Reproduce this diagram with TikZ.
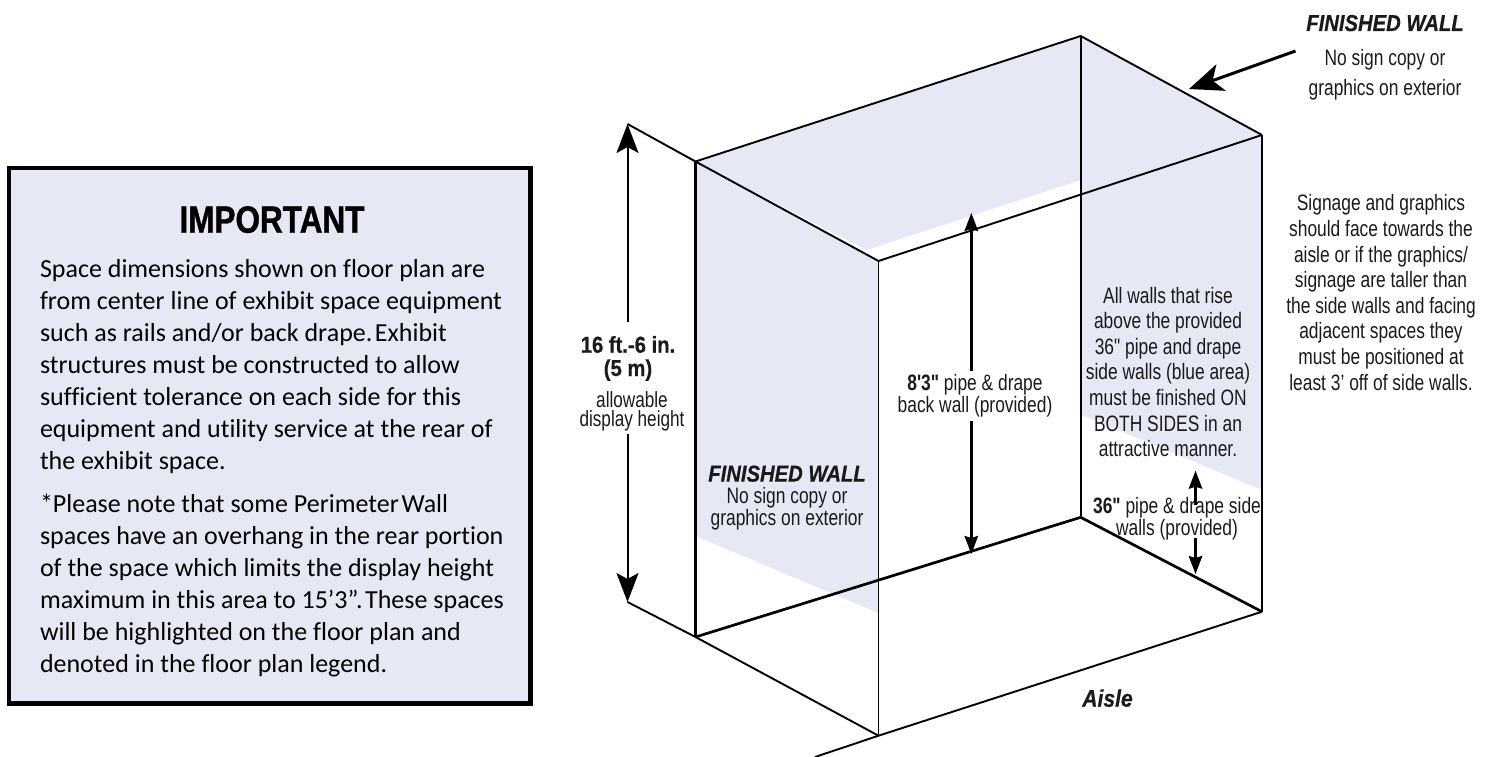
\documentclass[tikz,border=0pt]{standalone}
\usepackage{fontspec}
\usepackage{tikz}
\usetikzlibrary{arrows.meta}
\setmainfont{Liberation Sans}
\newfontfamily\nar[FakeStretch=0.78]{Liberation Sans}
\newfontfamily\narb[FakeStretch=0.88,FakeBold=0.5]{Liberation Sans}
\newfontfamily\narh[FakeStretch=0.83,FakeBold=1]{Liberation Sans}
\newfontfamily\gill[Ligatures=NoCommon]{Carlito}
\definecolor{wallblue}{HTML}{E6E8F5}
\definecolor{inkc}{HTML}{1A1A1A}
\newcommand\tsp{{\spaceskip=0.1em\relax\ }}
\newcommand\hv{\narb\bfseries\fontsize{23}{23.3}\selectfont}
\newcommand\fw{{\narb\bfseries\itshape\fontsize{23}{23}\selectfont FINISHED WALL}}
\tikzset{
  edge/.style={draw=black,line width=2.4pt},
  thinedge/.style={draw=black,line width=1.9pt},
  lab/.style={inner sep=0pt,outer sep=0pt,align=center,text=inkc,anchor=base},
  bodytxt/.style={inner sep=0pt,outer sep=0pt,align=left,text=black,anchor=north west,font=\gill\fontsize{26}{32}\selectfont},
  bigdim/.style={line width=2pt,-{Stealth[length=29pt,width=22pt,inset=6pt]}},
  middim/.style={line width=2.4pt,-{Stealth[length=18pt,width=13.5pt,inset=2pt]}},
  ptr/.style={line width=3pt,-{Stealth[length=34pt,width=28pt,inset=9pt]}},
}
\begin{document}
\begin{tikzpicture}[x=1pt,y=-1pt]
\useasboundingbox (0,0) rectangle (1491,757);
% corners
\coordinate (TL) at (695.5,161.5);
\coordinate (TF) at (878.5,261);
\coordinate (TB) at (1080.7,36);
\coordinate (TR) at (1262,135);
\coordinate (BL) at (695.5,637);
\coordinate (BF) at (878.5,735.7);
\coordinate (BB) at (1080.7,517.3);
\coordinate (BR) at (1262,611.7);
\coordinate (XT) at (627.5,124);
\coordinate (XB) at (627.5,602);
\coordinate (FE) at (815,757);
% fills
\fill[wallblue] (TL) -- (TB) -- (TR) -- (1262,490) -- (1080.7,414.5) -- (1080.7,180) -- (866.5,250) -- cycle;
\fill[wallblue] (TL) -- (TF) -- (878.5,613) -- (695.5,536) -- cycle;
% edges
\draw[thinedge] (XT) -- (TL) -- (TF);
\draw[thinedge] (TL) -- (TB) -- (TR);
\draw[thinedge] (TF) -- (TR);
\draw[edge] (TL) -- (BL);
\draw[draw=black,line width=1.6pt] (TF) -- (BF);
\draw[edge] (TB) -- (BB);
\draw[edge] (TR) -- (BR);
\draw[line width=2.7pt] (BL) -- (BB) -- (BR);
\draw[thinedge] (XB) -- (BL) -- (BF);
\draw[thinedge] (FE) -- (BF) -- (BR);
% important box
\node[draw=black,line width=4.4pt,fill=wallblue,minimum width=521.6pt,minimum height=535.3pt,inner sep=0pt,anchor=north west,outer sep=0pt] (box) at (8.9,168.2) {};
\node[lab,text=black,font=\narh\bfseries\fontsize{38}{38}\selectfont] (imp) at (272,232.7) {IMPORTANT};
\node[bodytxt] (body1) at (40,259) {Space dimensions shown on floor plan are\\from center line of exhibit space equipment\\such as rails and/or back drape.\tsp Exhibit\\structures must be constructed to allow\\sufficient tolerance on each side for this\\equipment and utility service at the rear of\\the exhibit space.};
\node[bodytxt] (body2) at (40,494) {*Please note that some Perimeter\tsp Wall\\spaces have an overhang in the rear portion\\of the space which limits the display height\\maximum in this area to 15’3”.\tsp These spaces\\will be highlighted on the floor plan and\\denoted in the floor plan legend.};
% labels
\node[lab,font=\hv] (h16) at (628,376) {16 ft.-6 in.\\(5 m)};
\node[lab,font=\nar\fontsize{22}{19.7}\selectfont] (h16b) at (632,426.7) {allowable\\display height};
\node[lab,font=\nar\fontsize{22.3}{17.7}\selectfont] (h8) at (975,412.7) {\textbf{8'3"} pipe \& drape\\back wall (provided)};
\node[lab,font=\nar\fontsize{22.3}{21.7}\selectfont] (fwl) at (787,525) {\fw\\No sign copy or\\graphics on exterior};
\node[lab,font=\nar\fontsize{22.3}{30}\selectfont] (fwr) at (1385,96) {\fw\\[5pt]No sign copy or\\graphics on exterior};
\node[lab,font=\nar\fontsize{22.3}{25.6}\selectfont] (sign) at (1381,390) {Signage and graphics\\should face towards the\\aisle or if the graphics/\\signage are taller than\\the side walls and facing\\adjacent spaces they\\must be positioned at\\least 3’ off of side walls.};
\node[lab,font=\nar\fontsize{22.3}{25.6}\selectfont] (allw) at (1168,456.7) {All walls that rise\\above the provided\\36" pipe and drape\\side walls (blue area)\\must be finished ON\\BOTH SIDES in an\\attractive manner.};
\node[lab,font=\nar\fontsize{22.3}{19}\selectfont] (h36) at (1177,535.7) {\textbf{36"} pipe \& drape side\\walls (provided)};
\node[lab,font=\narb\bfseries\itshape\fontsize{24}{24}\selectfont] (aisle) at (1107.5,706.7) {Aisle};
% dimension arrows
\coordinate (a1) at (627.5,322); \coordinate (a2) at (627.5,434);
\draw[bigdim] (a1) -- (XT);
\draw[bigdim] (a2) -- (XB);
\coordinate (b1) at (971.3,371); \coordinate (b1t) at (971.3,213);
\coordinate (b2) at (971.3,421); \coordinate (b2t) at (971.3,554);
\draw[middim] (b1) -- (b1t);
\draw[middim] (b2) -- (b2t);
\coordinate (c1) at (1195.5,505); \coordinate (c1t) at (1195.5,470.7);
\coordinate (c2) at (1195.5,538); \coordinate (c2t) at (1195.5,574);
\draw[middim] (c1) -- (c1t);
\draw[middim] (c2) -- (c2t);
\coordinate (p1) at (1295.5,51); \coordinate (p2) at (1189,89);
\draw[ptr] (p1) -- (p2);
\end{tikzpicture}
\end{document}
